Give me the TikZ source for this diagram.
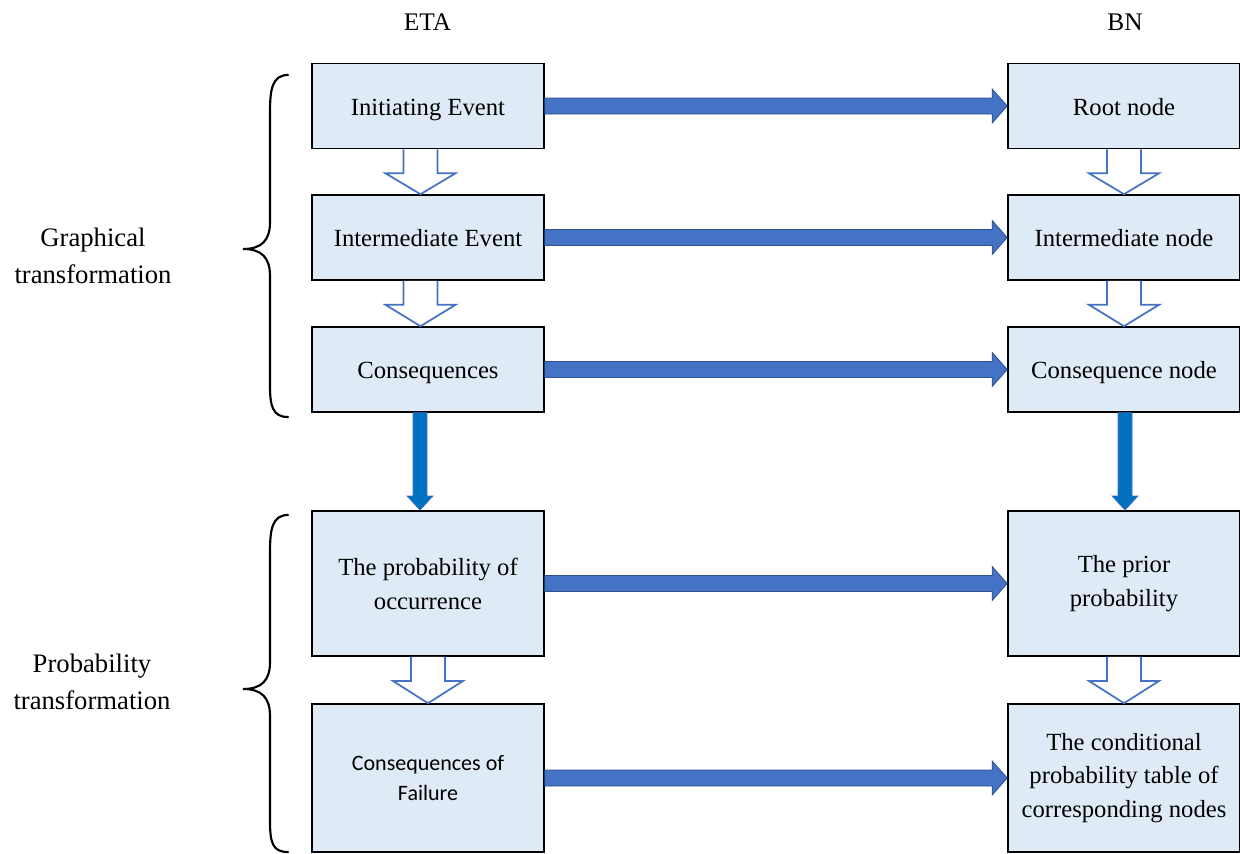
\documentclass[tikz,border=0pt]{standalone}
\usepackage{fontspec}
\setmainfont{Liberation Serif}
\newfontfamily\calibri{Carlito}
\usetikzlibrary{calc}
\definecolor{boxfill}{HTML}{DEEBF7}
\definecolor{arrowblue}{HTML}{4472C4}
\definecolor{arrowedge}{HTML}{2F528F}
\definecolor{downblue}{HTML}{0070C0}

% thick block arrow from the east side of #1 to the west side of #2
\newcommand\blockright[2]{%
  \filldraw[fill=arrowblue,draw=arrowedge,line width=0.6pt]
    ($(#1.east)+(0,-8)$) -- ($(#2.west)+(-15,-8)$) -- ($(#2.west)+(-15,-17)$)
    -- (#2.west) -- ($(#2.west)+(-15,17)$) -- ($(#2.west)+(-15,8)$)
    -- ($(#1.east)+(0,8)$) -- cycle;}
% hollow downward arrow, #3 = horizontal offset from the box centre
\newcommand\hollowdown[3]{%
  \filldraw[draw=arrowblue,fill=white,line width=1.3pt]
    ($(#1.south)+(#3-17,0)$) -- ($(#1.south)+(#3-17,24)$) -- ($(#1.south)+(#3-35,24)$)
    -- ($(#2.north)+(#3,0)$) -- ($(#1.south)+(#3+35,24)$) -- ($(#1.south)+(#3+17,24)$)
    -- ($(#1.south)+(#3+17,0)$);}
% solid downward arrow between the two groups
\newcommand\soliddown[3]{%
  \filldraw[fill=downblue,draw=arrowblue,line width=0.5pt]
    ($(#1.south)+(#3-7,0)$) -- ($(#2.north)+(#3-7,-14)$) -- ($(#2.north)+(#3-13,-14)$)
    -- ($(#2.north)+(#3,0)$) -- ($(#2.north)+(#3+13,-14)$) -- ($(#2.north)+(#3+7,-14)$)
    -- ($(#1.south)+(#3+7,0)$) -- cycle;}

\begin{document}
\begin{tikzpicture}[x=0.75pt,y=-0.75pt,
  box/.style={draw=black,line width=1.2pt,fill=boxfill,minimum width=174pt,
    inner sep=0pt,align=center,font=\fontsize{18.5}{25.5}\selectfont},
  short/.style={minimum height=63.75pt,text height=16pt,text depth=2pt},
  tall/.style={minimum height=109pt},
  label/.style={font=\fontsize{20}{28}\selectfont,align=center},
  head/.style={font=\fontsize{19}{22}\selectfont},
  brace/.style={line width=1.6pt,line cap=round}]
\useasboundingbox (0,0) rectangle (1240,854);

% column headings
\node[head] (eta) at (427.5,22) {ETA};
\node[head] (bn) at (1125,22) {BN};

% event tree column
\node[box,short] (ie) at (428,106) {Initiating Event};
\node[box,short] (ime) at (428,237.5) {Intermediate Event};
\node[box,short] (cons) at (428,369.5) {Consequences};
\node[box,tall] (poc) at (428,583.5) {The probability of\\occurrence};
\node[box,minimum height=111pt,font=\calibri\fontsize{16.5}{22.5}\selectfont] (cof) at (428,778) {Consequences of\\Failure};

% Bayesian network column
\node[box,short] (root) at (1124,106) {Root node};
\node[box,short] (imn) at (1124,237.5) {Intermediate node};
\node[box,short] (conn) at (1124,369.5) {Consequence node};
\node[box,tall] (prior) at (1124,583.5) {The prior\\probability};
\node[box,minimum height=111pt,font=\fontsize{18.5}{25}\selectfont] (cpt) at (1124,778) {The conditional\\probability table of\\corresponding nodes};

% mapping arrows
\blockright{ie}{root}
\blockright{ime}{imn}
\blockright{cons}{conn}
\blockright{poc}{prior}
\blockright{cof}{cpt}

% flow within each column
\hollowdown{ie}{ime}{-7.5}
\hollowdown{ime}{cons}{-7.5}
\hollowdown{poc}{cof}{0}
\hollowdown{root}{imn}{0}
\hollowdown{imn}{conn}{0}
\hollowdown{prior}{cpt}{0}
\soliddown{cons}{poc}{-8}
\soliddown{conn}{prior}{1}

% group braces
\draw[brace] (288,75) .. controls (272,75) and (270,90) .. (270,112) -- (270,222)
  .. controls (270,240) and (262,249) .. (243,249)
  .. controls (262,249) and (270,258) .. (270,276) -- (270,385)
  .. controls (270,405) and (272,417) .. (288,417);
\draw[brace] (288,515) .. controls (272,515) and (270,530) .. (270,552) -- (270,662)
  .. controls (270,680) and (262,689) .. (243,689)
  .. controls (262,689) and (270,698) .. (270,716) -- (270,820)
  .. controls (270,842) and (272,852) .. (288,852);

% group labels
\node[label] (gt) at (93,256) {Graphical\\transformation};
\node[label] (pt) at (92,682) {Probability\\transformation};
\end{tikzpicture}
\end{document}
